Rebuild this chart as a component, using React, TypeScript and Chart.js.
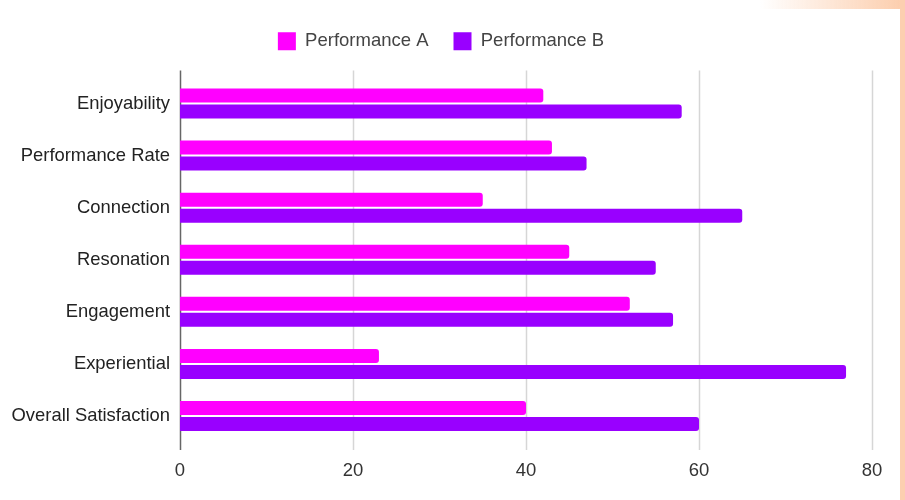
import React, { useEffect, useRef } from "react";
import { Chart, registerables } from "chart.js";

Chart.register(...registerables);

const categories = [
  "Enjoyability",
  "Performance Rate",
  "Connection",
  "Resonation",
  "Engagement",
  "Experiential",
  "Overall Satisfaction",
];
const performanceA = [42, 43, 35, 45, 52, 23, 40];
const performanceB = [58, 47, 65, 55, 57, 77, 60];
const xTicks = [0, 20, 40, 60, 80];

const FONT = "'Liberation Sans', Arial, sans-serif";

const gridPlugin = {
  id: "customGrid",
  beforeDatasetsDraw(chart: any) {
    const { ctx, chartArea, scales } = chart;
    const x = scales.x;
    ctx.save();
    xTicks.forEach((v) => {
      const px = Math.round(x.getPixelForValue(v)) + 0.5;
      ctx.beginPath();
      ctx.strokeStyle = v === 0 ? "#666666" : "#d6d6d6";
      ctx.lineWidth = 1.5;
      ctx.moveTo(px, chartArea.top - 7);
      ctx.lineTo(px, chartArea.bottom + 8);
      ctx.stroke();
    });
    ctx.restore();
  },
};

export default function App() {
  const ref = useRef<HTMLCanvasElement | null>(null);

  useEffect(() => {
    if (!ref.current) return;
    const chart = new Chart(ref.current, {
      type: "bar",
      data: {
        labels: categories,
        datasets: [
          {
            label: "Performance A",
            data: performanceA,
            backgroundColor: "#ff00ff",
            borderRadius: 3,
            barPercentage: 0.875,
            categoryPercentage: 0.614,
          },
          {
            label: "Performance B",
            data: performanceB,
            backgroundColor: "#9900ff",
            borderRadius: 3,
            barPercentage: 0.875,
            categoryPercentage: 0.614,
          },
        ],
      },
      options: {
        indexAxis: "y",
        animation: false,
        responsive: false,
        maintainAspectRatio: false,
        layout: { padding: { top: 7, right: 33, bottom: 0, left: 10 } },
        plugins: {
          legend: {
            position: "top",
            align: "center",
            labels: {
              boxWidth: 18,
              boxHeight: 18,
              padding: 25,
              color: "#444444",
              font: { family: FONT, size: 18.5 },
            },
          },
          tooltip: { enabled: false },
        },
        scales: {
          x: {
            type: "linear",
            min: 0,
            max: 80,
            ticks: {
              stepSize: 20,
              color: "#333333",
              padding: 10,
              font: { family: FONT, size: 18.5 },
            },
            grid: { display: false },
            border: { display: false },
            afterFit: (s: any) => {
              s.height = 58;
            },
          },
          spacer: {
            type: "linear",
            axis: "x",
            position: "top",
            display: true,
            ticks: { display: false },
            grid: { display: false },
            border: { display: false },
            afterFit: (s: any) => {
              s.height = 17;
            },
          },
          y: {
            type: "category",
            ticks: {
              color: "#222222",
              padding: 2,
              font: { family: FONT, size: 18.4 },
            },
            grid: { display: false },
            border: { display: false },
            afterFit: (s: any) => {
              s.width = 170;
            },
          },
        },
      },
      plugins: [gridPlugin],
    });
    return () => chart.destroy();
  }, []);

  return (
    <div style={{ position: "fixed", left: 0, top: 0, width: 905, height: 500, background: "#ffffff", overflow: "hidden" }}>
      <canvas ref={ref} width={905} height={500} style={{ position: "absolute", left: 0, top: 0 }} />
      <div
        style={{
          position: "absolute",
          left: 0,
          top: 0,
          width: 905,
          height: 9,
          background: "linear-gradient(to right, rgba(252,205,172,0) 0px, rgba(252,205,172,0) 760px, rgba(252,205,172,1) 905px)",
        }}
      />
      <div style={{ position: "absolute", left: 900, top: 0, width: 5, height: 500, background: "#fccfb0" }} />
    </div>
  );
}
